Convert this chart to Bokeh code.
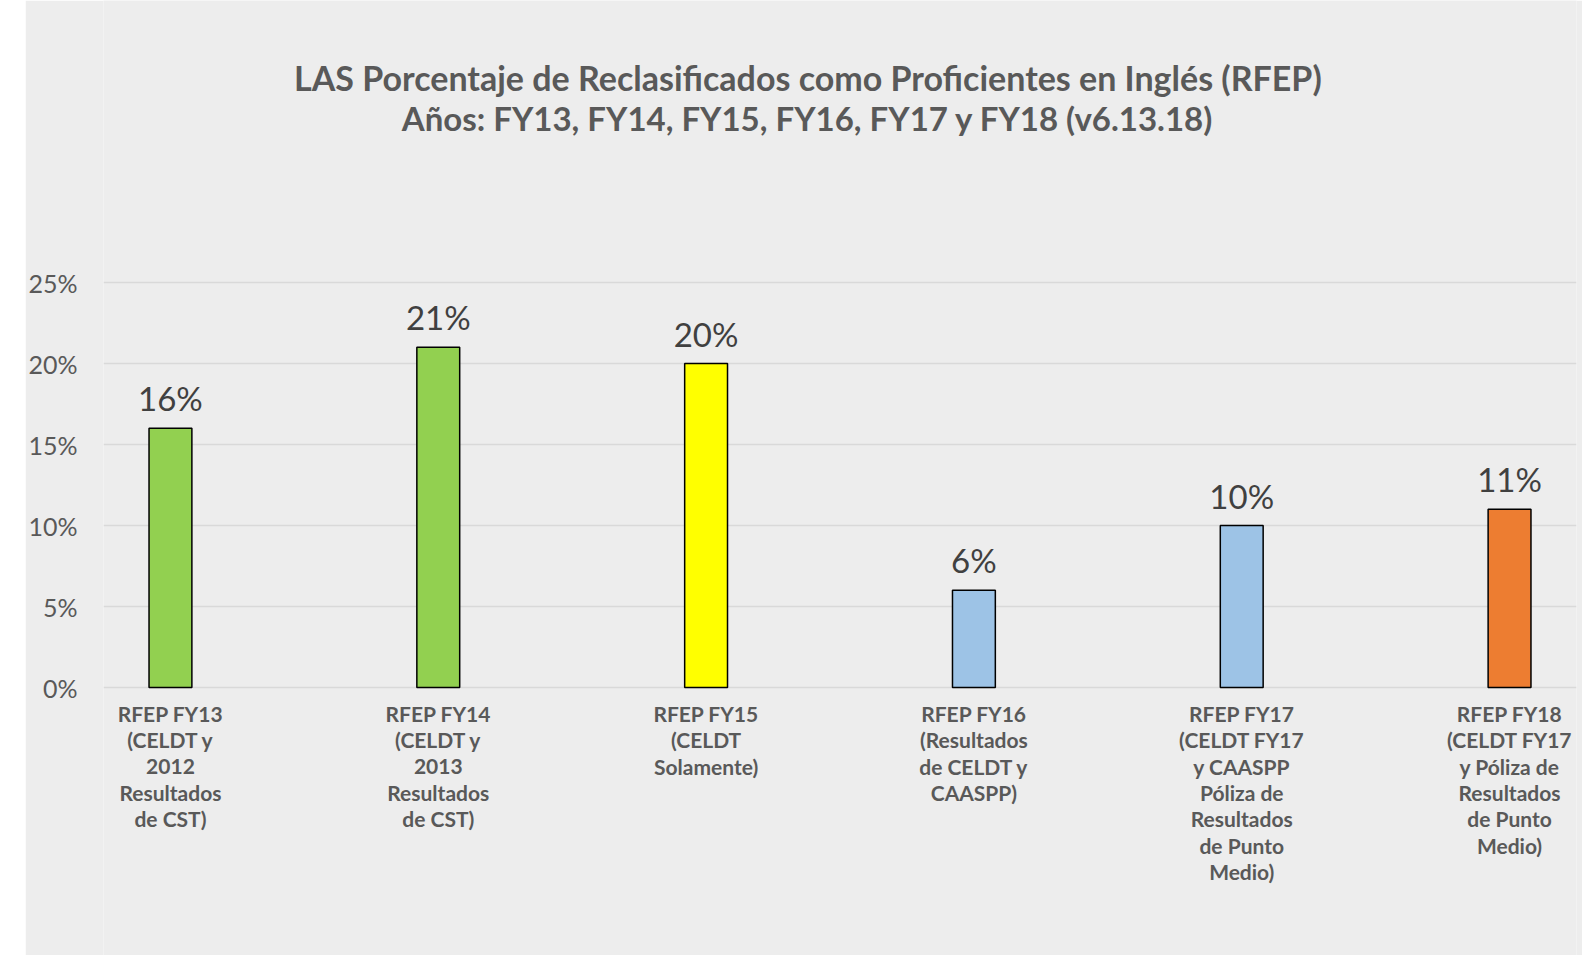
from bokeh.plotting import figure
from bokeh.models import ColumnDataSource, LabelSet, Label, Range1d, FixedTicker, Spacer
from bokeh.layouts import row
from bokeh.embed import file_html
from bokeh.resources import INLINE
from bokeh.core.properties import value

# ---- data ----
categories = [
    "RFEP FY13\n(CELDT y\n2012\nResultados\nde CST)",
    "RFEP FY14\n(CELDT y\n2013\nResultados\nde CST)",
    "RFEP FY15\n(CELDT\nSolamente)",
    "RFEP FY16\n(Resultados\nde CELDT y\nCAASPP)",
    "RFEP FY17\n(CELDT FY17\ny CAASPP\nPóliza de\nResultados\nde Punto\nMedio)",
    "RFEP FY18\n(CELDT FY17\ny Póliza de\nResultados\nde Punto\nMedio)",
]
values = [0.16, 0.21, 0.20, 0.06, 0.10, 0.11]
value_labels = ["16%", "21%", "20%", "6%", "10%", "11%"]
colors = ["#92D050", "#92D050", "#FFFF00", "#9DC3E6", "#9DC3E6", "#ED7D31"]
y_ticks = [0.0, 0.05, 0.10, 0.15, 0.20, 0.25]
y_tick_labels = ["0%", "5%", "10%", "15%", "20%", "25%"]
title_lines = [
    "LAS Porcentaje de Reclasificados como Proficientes en Inglés (RFEP)",
    "Años: FY13, FY14, FY15, FY16, FY17 y FY18 (v6.13.18)",
]

BG = "#EDEDED"
TXT = "#595959"
FONT = "Lato"

H = 955
x = list(range(len(categories)))
src = ColumnDataSource(dict(x=x, top=values, color=colors, vlabel=value_labels))

# one label per line of each category text, so every line is centred under its bar
LINE_H = 26.3
lx, ltxt, loff = [], [], []
for xi, cat in zip(x, categories):
    for j, part in enumerate(cat.split("\n")):
        lx.append(xi)
        ltxt.append(part)
        loff.append(-(26 + j * LINE_H))
line_src = ColumnDataSource(dict(x=lx, text=ltxt, off=loff))

# frame spans the full chart height so that title and category texts sit inside it;
# 0 % sits 687 px from the top, 25 % at 282 px
px_per_unit = (687 - 282) / 0.25
p = figure(
    width=1557, height=H,
    x_range=Range1d(-0.25, 5.25),
    y_range=Range1d(-(H - 687) / px_per_unit, 687 / px_per_unit),
    output_backend="svg", toolbar_location=None,
    min_border_left=78, min_border_right=6, min_border_top=0, min_border_bottom=0,
    background_fill_color=BG, border_fill_color=BG,
)
p.outline_line_color = None

p.xaxis.visible = False
p.xgrid.grid_line_color = None

yax = p.yaxis[0]
yax.ticker = FixedTicker(ticks=y_ticks)
yax.major_label_overrides = {t: l for t, l in zip(y_ticks, y_tick_labels)}
yax.axis_line_color = None
yax.major_tick_line_color = None
yax.minor_tick_line_color = None
yax.major_tick_out = 0
yax.major_label_standoff = 26
yax.major_label_text_font = FONT
yax.major_label_text_font_size = "25px"
yax.major_label_text_color = TXT
p.ygrid.ticker = FixedTicker(ticks=y_ticks)
p.ygrid.grid_line_color = "#D9D9D9"
p.ygrid.grid_line_width = 1.5

p.vbar(x="x", top="top", width=0.16, source=src, fill_color="color",
       line_color="black", line_width=1.5)

p.add_layout(LabelSet(x="x", y="top", text="vlabel", source=src,
                      text_align="center", text_baseline="alphabetic", y_offset=17,
                      text_font=value(FONT), text_font_size="33px", text_color="#404040"))

p.add_layout(LabelSet(x="x", y=0, text="text", source=line_src, y_offset="off",
                      text_align="center", text_baseline="middle",
                      text_font=value(FONT), text_font_size="21px", text_font_style="bold",
                      text_color=TXT))

for line, off, size in zip(title_lines, [610, 569.5], ["34px", "33px"]):
    p.add_layout(Label(x=2.38, y=0, y_offset=off, text=line, text_align="center",
                       text_baseline="middle", text_font=FONT, text_font_size=size,
                       text_font_style="bold", text_color=TXT))

layout = row(Spacer(width=25, height=H), p)
open("out.html", "w").write(file_html(layout, INLINE))
